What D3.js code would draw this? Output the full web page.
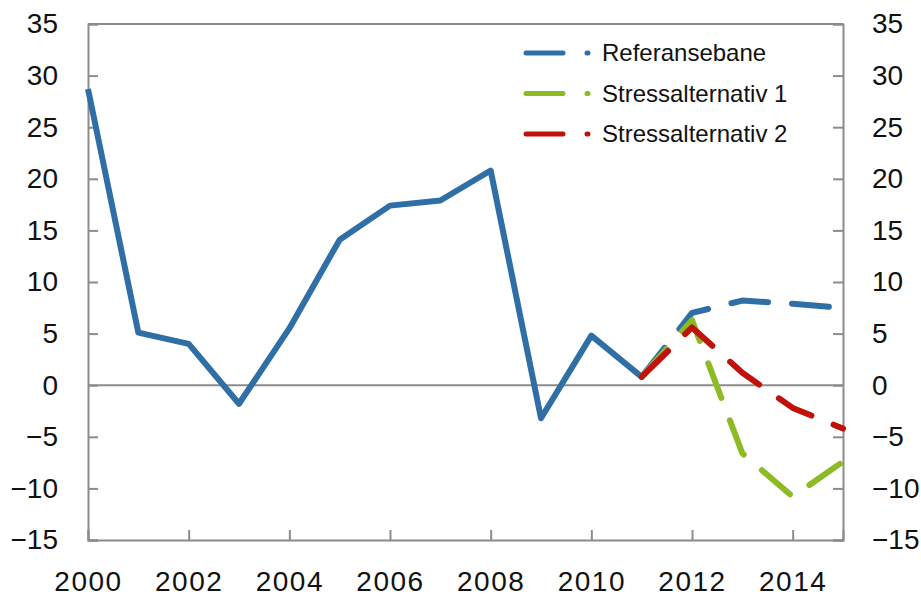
<!DOCTYPE html>
<html>
<head>
<meta charset="utf-8">
<script src="https://cdn.jsdelivr.net/npm/d3@7"></script>
<style>
  body { margin: 0; background: #fff; }
  text { font-family: "Liberation Sans", Arial, sans-serif; fill: #111; }
</style>
</head>
<body>
<svg id="viz" width="921" height="598"></svg>
<script>
var years = [2000, 2001, 2002, 2003, 2004, 2005, 2006, 2007, 2008, 2009, 2010, 2011, 2012, 2013, 2014, 2015];
var referanse = [28.7, 5.1, 4.0, -1.8, 5.5, 14.1, 17.4, 17.9, 20.8, -3.2, 4.8, 0.8, 7.0, 8.2, 7.9, 7.5];
var stressYears = [2011, 2012, 2013, 2014, 2015];
var stress1 = [0.8, 6.3, -6.6, -10.8, -7.4];
var stress2 = [0.8, 5.6, 1.2, -2.2, -4.2];
var yTicks = [35, 30, 25, 20, 15, 10, 5, 0, -5, -10, -15];
var xTicks = [2000, 2002, 2004, 2006, 2008, 2010, 2012, 2014];
var seriesNames = ["Referansebane", "Stressalternativ 1", "Stressalternativ 2"];
var colors = ["#2f6fa6", "#8cbb26", "#c0120b"];

var margins = {top: 24, right: 78, bottom: 58, left: 88};
var dash = "37,24";

function main(){
  var svg = d3.select("#viz"),
      width = +svg.attr("width") - margins.left - margins.right,
      height = +svg.attr("height") - margins.top - margins.bottom,
      g = svg.append("g").attr("transform", "translate(" + margins.left + "," + margins.top + ")");

  var xScale = d3.scaleLinear().domain([2000, 2015]).range([0, width]);
  var yScale = d3.scaleLinear().domain([-15, 35]).range([height, 0]);

  // zero line
  g.append("line")
    .attr("x1", 0).attr("x2", width)
    .attr("y1", yScale(0)).attr("y2", yScale(0))
    .attr("stroke", "#8c8c8c").attr("stroke-width", 2);

  // axes with inward ticks
  var left = g.append("g").call(d3.axisLeft(yScale).tickValues(yTicks).tickSize(-10).tickPadding(30));
  var right = g.append("g").attr("transform", "translate(" + width + ",0)")
    .call(d3.axisRight(yScale).tickValues(yTicks).tickSize(-10).tickPadding(29));
  var bottom = g.append("g").attr("transform", "translate(0," + height + ")")
    .call(d3.axisBottom(xScale).tickValues(xTicks).tickFormat(d3.format("d")).tickSize(-10).tickPadding(31));
  g.append("line").attr("x1", 0).attr("x2", width).attr("y1", 0).attr("y2", 0)
    .attr("stroke", "#8c8c8c").attr("stroke-width", 2);

  [left, right, bottom].forEach(function(a){
    a.select(".domain").attr("stroke", "#8c8c8c").attr("stroke-width", 2);
    a.selectAll(".tick line").attr("stroke", "#8c8c8c").attr("stroke-width", 2);
    a.selectAll(".tick text").style("font-family", "Liberation Sans, Arial, sans-serif")
      .style("font-size", "28px").attr("fill", "#111");
  });
  bottom.selectAll(".tick text").attr("dy", "0.71em").style("letter-spacing", "1.5px");

  var line = d3.line()
    .x(function(d) { return xScale(d.year); })
    .y(function(d) { return yScale(d.value); });

  function pairs(xs, vs){ return xs.map(function(x, i){ return {year: x, value: vs[i]}; }); }

  var solid = pairs(years, referanse).filter(function(d){ return d.year <= 2011; });
  var refDash = pairs(years, referanse).filter(function(d){ return d.year >= 2011; });

  g.append("path").datum(solid).attr("d", line)
    .attr("fill", "none").attr("stroke", colors[0]).attr("stroke-width", 6).attr("stroke-linejoin", "round");

  [refDash, pairs(stressYears, stress1), pairs(stressYears, stress2)].forEach(function(data, i){
    g.append("path").datum(data).attr("d", line)
      .attr("fill", "none").attr("stroke", colors[i]).attr("stroke-width", 6)
      .attr("stroke-dasharray", dash).attr("stroke-linecap", "round").attr("stroke-linejoin", "round");
  });

  // legend
  var legend = svg.append("g");
  seriesNames.forEach(function(name, i){
    var y = 53 + i * 40.5;
    legend.append("line").attr("x1", 526).attr("x2", 588).attr("y1", y).attr("y2", y)
      .attr("stroke", colors[i]).attr("stroke-width", 5)
      .attr("stroke-dasharray", dash).attr("stroke-linecap", "round");
    legend.append("text").attr("x", 602).attr("y", y).attr("dy", "0.35em")
      .style("font-size", "24px").text(name);
  });
}

main();
</script>
</body>
</html>
